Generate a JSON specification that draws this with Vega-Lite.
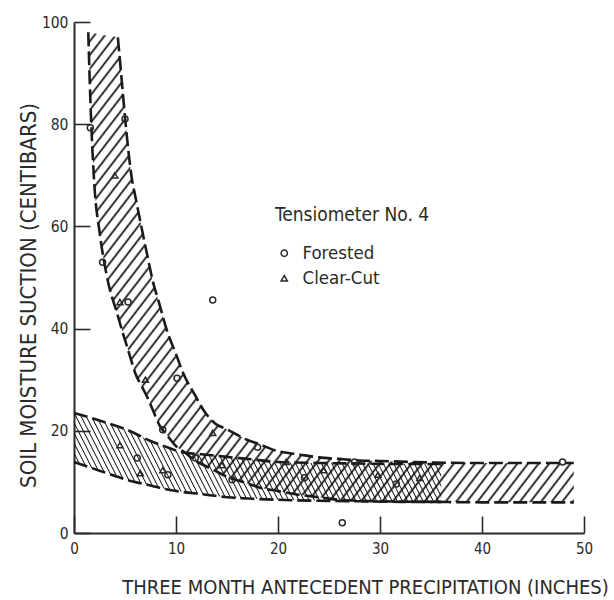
{
 "$schema": "https://vega.github.io/schema/vega-lite/v6.json",
 "width": 510, "height": 511,
 "autosize": {"type": "none"},
 "padding": {"left": 74, "top": 22, "right": 30, "bottom": 67},
 "background": "white",
 "config": {
  "view": {"stroke": null},
  "font": "DejaVu Sans Condensed, DejaVu Sans, sans-serif",
  "axis": {"grid": false, "domainColor": "#2a2a2a", "domainWidth": 2, "tickColor": "#2a2a2a", "tickWidth": 1.6,
           "labelColor": "#2a2a2a", "titleColor": "#2a2a2a", "titleFontWeight": "normal", "labelFlush": false,
           "labelFont": "DejaVu Sans Condensed, DejaVu Sans, sans-serif",
           "titleFont": "DejaVu Sans Condensed, DejaVu Sans, sans-serif"},
  "legend": {"titleFontWeight": "normal", "titleColor": "#2a2a2a", "labelColor": "#2a2a2a",
             "titleFont": "DejaVu Sans Condensed, DejaVu Sans, sans-serif",
             "labelFont": "DejaVu Sans Condensed, DejaVu Sans, sans-serif"}
 },
 "datasets": {
  "bands": [
   {"band": "F", "x": 1.4, "lo": 98, "hi": 98},
   {"band": "F", "x": 1.6, "lo": 85, "hi": 98},
   {"band": "F", "x": 2.0, "lo": 68, "hi": 97.8},
   {"band": "F", "x": 2.5, "lo": 59, "hi": 97.6},
   {"band": "F", "x": 3.3, "lo": 49.5, "hi": 97.3},
   {"band": "F", "x": 4.3, "lo": 42.5, "hi": 97},
   {"band": "F", "x": 4.7, "lo": 39.7, "hi": 88.1},
   {"band": "F", "x": 5.0, "lo": 37.8, "hi": 81.4},
   {"band": "F", "x": 5.7, "lo": 33.2, "hi": 69},
   {"band": "F", "x": 6.0, "lo": 31.3, "hi": 66},
   {"band": "F", "x": 6.7, "lo": 28.5, "hi": 59},
   {"band": "F", "x": 7.2, "lo": 26.5, "hi": 54.2},
   {"band": "F", "x": 7.7, "lo": 24.2, "hi": 49.5},
   {"band": "F", "x": 8.4, "lo": 21, "hi": 44.6},
   {"band": "F", "x": 9.1, "lo": 19.2, "hi": 39.7},
   {"band": "F", "x": 10, "lo": 17, "hi": 35},
   {"band": "F", "x": 10.7, "lo": 16, "hi": 31.3},
   {"band": "F", "x": 12, "lo": 14, "hi": 26.5},
   {"band": "F", "x": 12.4, "lo": 13.6, "hi": 25},
   {"band": "F", "x": 13.8, "lo": 12.2, "hi": 21.5},
   {"band": "F", "x": 15, "lo": 11, "hi": 20.3},
   {"band": "F", "x": 17, "lo": 9.7, "hi": 18.2},
   {"band": "F", "x": 18, "lo": 9, "hi": 17.5},
   {"band": "F", "x": 20, "lo": 8.2, "hi": 16},
   {"band": "F", "x": 22, "lo": 7.5, "hi": 15.4},
   {"band": "F", "x": 24, "lo": 7, "hi": 14.8},
   {"band": "F", "x": 26, "lo": 6.5, "hi": 14.5},
   {"band": "F", "x": 28, "lo": 6.3, "hi": 14.2},
   {"band": "F", "x": 30, "lo": 6.2, "hi": 14.1},
   {"band": "F", "x": 35, "lo": 6.1, "hi": 13.8},
   {"band": "F", "x": 40, "lo": 6, "hi": 13.7},
   {"band": "F", "x": 49, "lo": 6, "hi": 13.7},
   {"band": "C", "x": 0, "lo": 13.9, "hi": 23.5},
   {"band": "C", "x": 2.5, "lo": 12.2, "hi": 22},
   {"band": "C", "x": 5.2, "lo": 10.4, "hi": 20.2},
   {"band": "C", "x": 7.5, "lo": 9.3, "hi": 18},
   {"band": "C", "x": 9.4, "lo": 8.4, "hi": 16.6},
   {"band": "C", "x": 10.4, "lo": 8.1, "hi": 15.9},
   {"band": "C", "x": 12.5, "lo": 7.6, "hi": 15.4},
   {"band": "C", "x": 15, "lo": 7, "hi": 14.9},
   {"band": "C", "x": 17.5, "lo": 6.7, "hi": 14.4},
   {"band": "C", "x": 20, "lo": 6.5, "hi": 13.9},
   {"band": "C", "x": 24, "lo": 6.3, "hi": 13.7},
   {"band": "C", "x": 28, "lo": 6.2, "hi": 13.6},
   {"band": "C", "x": 32, "lo": 6.1, "hi": 13.5},
   {"band": "C", "x": 36, "lo": 6.1, "hi": 13.5}
  ],
  "pts": [
   {"x": 1.6, "y": 79.3, "cover": "Forested"},
   {"x": 5.0, "y": 81, "cover": "Forested"},
   {"x": 2.8, "y": 53, "cover": "Forested"},
   {"x": 5.3, "y": 45.2, "cover": "Forested"},
   {"x": 13.6, "y": 45.6, "cover": "Forested"},
   {"x": 10.1, "y": 30.3, "cover": "Forested"},
   {"x": 8.7, "y": 20.2, "cover": "Forested"},
   {"x": 6.2, "y": 14.7, "cover": "Forested"},
   {"x": 9.2, "y": 11.4, "cover": "Forested"},
   {"x": 11.9, "y": 14.7, "cover": "Forested"},
   {"x": 15.5, "y": 10.4, "cover": "Forested"},
   {"x": 18, "y": 16.8, "cover": "Forested"},
   {"x": 22.6, "y": 10.8, "cover": "Forested"},
   {"x": 27.5, "y": 13.9, "cover": "Forested"},
   {"x": 26.3, "y": 2.0, "cover": "Forested"},
   {"x": 31.6, "y": 9.6, "cover": "Forested"},
   {"x": 47.9, "y": 13.9, "cover": "Forested"},
   {"x": 4.0, "y": 70, "cover": "Clear-Cut"},
   {"x": 4.5, "y": 45.2, "cover": "Clear-Cut"},
   {"x": 7.0, "y": 30, "cover": "Clear-Cut"},
   {"x": 4.5, "y": 17.2, "cover": "Clear-Cut"},
   {"x": 6.5, "y": 11.7, "cover": "Clear-Cut"},
   {"x": 8.7, "y": 12.3, "cover": "Clear-Cut"},
   {"x": 13.6, "y": 19.6, "cover": "Clear-Cut"},
   {"x": 14.5, "y": 13.3, "cover": "Clear-Cut"},
   {"x": 20.8, "y": 13.9, "cover": "Clear-Cut"},
   {"x": 24.5, "y": 12.3, "cover": "Clear-Cut"},
   {"x": 29.8, "y": 11.4, "cover": "Clear-Cut"},
   {"x": 33.9, "y": 10.8, "cover": "Clear-Cut"}
  ]
 },
 "layer": [
  {
   "data": {"name": "bands"},
   "transform": [{"filter": "datum.band == 'F'"}],
   "mark": {"type": "area", "interpolate": "monotone",
    "fill": {"gradient": "linear", "x1": 0, "y1": 0, "x2": 1.123, "y2": 0.837, "stops": [
{"offset":0.0075,"color":"#0000"},{"offset":0.01,"color":"#111"},{"offset":0.0125,"color":"#0000"},{"offset":0.02,"color":"#0000"},{"offset":0.0225,"color":"#111"},{"offset":0.025,"color":"#0000"},{"offset":0.0325,"color":"#0000"},{"offset":0.035,"color":"#111"},{"offset":0.0375,"color":"#0000"},{"offset":0.045,"color":"#0000"},{"offset":0.0475,"color":"#111"},{"offset":0.05,"color":"#0000"},
{"offset":0.0575,"color":"#0000"},{"offset":0.06,"color":"#111"},{"offset":0.0625,"color":"#0000"},{"offset":0.07,"color":"#0000"},{"offset":0.0725,"color":"#111"},{"offset":0.075,"color":"#0000"},{"offset":0.0825,"color":"#0000"},{"offset":0.085,"color":"#111"},{"offset":0.0875,"color":"#0000"},{"offset":0.095,"color":"#0000"},{"offset":0.0975,"color":"#111"},{"offset":0.1,"color":"#0000"},
{"offset":0.1075,"color":"#0000"},{"offset":0.11,"color":"#111"},{"offset":0.1125,"color":"#0000"},{"offset":0.12,"color":"#0000"},{"offset":0.1225,"color":"#111"},{"offset":0.125,"color":"#0000"},{"offset":0.1325,"color":"#0000"},{"offset":0.135,"color":"#111"},{"offset":0.1375,"color":"#0000"},{"offset":0.145,"color":"#0000"},{"offset":0.1475,"color":"#111"},{"offset":0.15,"color":"#0000"},
{"offset":0.1575,"color":"#0000"},{"offset":0.16,"color":"#111"},{"offset":0.1625,"color":"#0000"},{"offset":0.17,"color":"#0000"},{"offset":0.1725,"color":"#111"},{"offset":0.175,"color":"#0000"},{"offset":0.1825,"color":"#0000"},{"offset":0.185,"color":"#111"},{"offset":0.1875,"color":"#0000"},{"offset":0.195,"color":"#0000"},{"offset":0.1975,"color":"#111"},{"offset":0.2,"color":"#0000"},
{"offset":0.2075,"color":"#0000"},{"offset":0.21,"color":"#111"},{"offset":0.2125,"color":"#0000"},{"offset":0.22,"color":"#0000"},{"offset":0.2225,"color":"#111"},{"offset":0.225,"color":"#0000"},{"offset":0.2325,"color":"#0000"},{"offset":0.235,"color":"#111"},{"offset":0.2375,"color":"#0000"},{"offset":0.245,"color":"#0000"},{"offset":0.2475,"color":"#111"},{"offset":0.25,"color":"#0000"},
{"offset":0.2575,"color":"#0000"},{"offset":0.26,"color":"#111"},{"offset":0.2625,"color":"#0000"},{"offset":0.27,"color":"#0000"},{"offset":0.2725,"color":"#111"},{"offset":0.275,"color":"#0000"},{"offset":0.2825,"color":"#0000"},{"offset":0.285,"color":"#111"},{"offset":0.2875,"color":"#0000"},{"offset":0.295,"color":"#0000"},{"offset":0.2975,"color":"#111"},{"offset":0.3,"color":"#0000"},
{"offset":0.3075,"color":"#0000"},{"offset":0.31,"color":"#111"},{"offset":0.3125,"color":"#0000"},{"offset":0.32,"color":"#0000"},{"offset":0.3225,"color":"#111"},{"offset":0.325,"color":"#0000"},{"offset":0.3325,"color":"#0000"},{"offset":0.335,"color":"#111"},{"offset":0.3375,"color":"#0000"},{"offset":0.345,"color":"#0000"},{"offset":0.3475,"color":"#111"},{"offset":0.35,"color":"#0000"},
{"offset":0.3575,"color":"#0000"},{"offset":0.36,"color":"#111"},{"offset":0.3625,"color":"#0000"},{"offset":0.37,"color":"#0000"},{"offset":0.3725,"color":"#111"},{"offset":0.375,"color":"#0000"},{"offset":0.3825,"color":"#0000"},{"offset":0.385,"color":"#111"},{"offset":0.3875,"color":"#0000"},{"offset":0.395,"color":"#0000"},{"offset":0.3975,"color":"#111"},{"offset":0.4,"color":"#0000"},
{"offset":0.4075,"color":"#0000"},{"offset":0.41,"color":"#111"},{"offset":0.4125,"color":"#0000"},{"offset":0.42,"color":"#0000"},{"offset":0.4225,"color":"#111"},{"offset":0.425,"color":"#0000"},{"offset":0.4325,"color":"#0000"},{"offset":0.435,"color":"#111"},{"offset":0.4375,"color":"#0000"},{"offset":0.445,"color":"#0000"},{"offset":0.4475,"color":"#111"},{"offset":0.45,"color":"#0000"},
{"offset":0.4575,"color":"#0000"},{"offset":0.46,"color":"#111"},{"offset":0.4625,"color":"#0000"},{"offset":0.47,"color":"#0000"},{"offset":0.4725,"color":"#111"},{"offset":0.475,"color":"#0000"},{"offset":0.4825,"color":"#0000"},{"offset":0.485,"color":"#111"},{"offset":0.4875,"color":"#0000"},{"offset":0.495,"color":"#0000"},{"offset":0.4975,"color":"#111"},{"offset":0.5,"color":"#0000"},
{"offset":0.5075,"color":"#0000"},{"offset":0.51,"color":"#111"},{"offset":0.5125,"color":"#0000"},{"offset":0.52,"color":"#0000"},{"offset":0.5225,"color":"#111"},{"offset":0.525,"color":"#0000"},{"offset":0.5325,"color":"#0000"},{"offset":0.535,"color":"#111"},{"offset":0.5375,"color":"#0000"},{"offset":0.545,"color":"#0000"},{"offset":0.5475,"color":"#111"},{"offset":0.55,"color":"#0000"},
{"offset":0.5575,"color":"#0000"},{"offset":0.56,"color":"#111"},{"offset":0.5625,"color":"#0000"},{"offset":0.57,"color":"#0000"},{"offset":0.5725,"color":"#111"},{"offset":0.575,"color":"#0000"},{"offset":0.5825,"color":"#0000"},{"offset":0.585,"color":"#111"},{"offset":0.5875,"color":"#0000"},{"offset":0.595,"color":"#0000"},{"offset":0.5975,"color":"#111"},{"offset":0.6,"color":"#0000"},
{"offset":0.6075,"color":"#0000"},{"offset":0.61,"color":"#111"},{"offset":0.6125,"color":"#0000"},{"offset":0.62,"color":"#0000"},{"offset":0.6225,"color":"#111"},{"offset":0.625,"color":"#0000"},{"offset":0.6325,"color":"#0000"},{"offset":0.635,"color":"#111"},{"offset":0.6375,"color":"#0000"},{"offset":0.645,"color":"#0000"},{"offset":0.6475,"color":"#111"},{"offset":0.65,"color":"#0000"},
{"offset":0.6575,"color":"#0000"},{"offset":0.66,"color":"#111"},{"offset":0.6625,"color":"#0000"},{"offset":0.67,"color":"#0000"},{"offset":0.6725,"color":"#111"},{"offset":0.675,"color":"#0000"},{"offset":0.6825,"color":"#0000"},{"offset":0.685,"color":"#111"},{"offset":0.6875,"color":"#0000"},{"offset":0.695,"color":"#0000"},{"offset":0.6975,"color":"#111"},{"offset":0.7,"color":"#0000"},
{"offset":0.7075,"color":"#0000"},{"offset":0.71,"color":"#111"},{"offset":0.7125,"color":"#0000"},{"offset":0.72,"color":"#0000"},{"offset":0.7225,"color":"#111"},{"offset":0.725,"color":"#0000"},{"offset":0.7325,"color":"#0000"},{"offset":0.735,"color":"#111"},{"offset":0.7375,"color":"#0000"},{"offset":0.745,"color":"#0000"},{"offset":0.7475,"color":"#111"},{"offset":0.75,"color":"#0000"},
{"offset":0.7575,"color":"#0000"},{"offset":0.76,"color":"#111"},{"offset":0.7625,"color":"#0000"},{"offset":0.77,"color":"#0000"},{"offset":0.7725,"color":"#111"},{"offset":0.775,"color":"#0000"},{"offset":0.7825,"color":"#0000"},{"offset":0.785,"color":"#111"},{"offset":0.7875,"color":"#0000"},{"offset":0.795,"color":"#0000"},{"offset":0.7975,"color":"#111"},{"offset":0.8,"color":"#0000"},
{"offset":0.8075,"color":"#0000"},{"offset":0.81,"color":"#111"},{"offset":0.8125,"color":"#0000"},{"offset":0.82,"color":"#0000"},{"offset":0.8225,"color":"#111"},{"offset":0.825,"color":"#0000"},{"offset":0.8325,"color":"#0000"},{"offset":0.835,"color":"#111"},{"offset":0.8375,"color":"#0000"},{"offset":0.845,"color":"#0000"},{"offset":0.8475,"color":"#111"},{"offset":0.85,"color":"#0000"},
{"offset":0.8575,"color":"#0000"},{"offset":0.86,"color":"#111"},{"offset":0.8625,"color":"#0000"},{"offset":0.87,"color":"#0000"},{"offset":0.8725,"color":"#111"},{"offset":0.875,"color":"#0000"},{"offset":0.8825,"color":"#0000"},{"offset":0.885,"color":"#111"},{"offset":0.8875,"color":"#0000"},{"offset":0.895,"color":"#0000"},{"offset":0.8975,"color":"#111"},{"offset":0.9,"color":"#0000"},
{"offset":0.9075,"color":"#0000"},{"offset":0.91,"color":"#111"},{"offset":0.9125,"color":"#0000"},{"offset":0.92,"color":"#0000"},{"offset":0.9225,"color":"#111"},{"offset":0.925,"color":"#0000"},{"offset":0.9325,"color":"#0000"},{"offset":0.935,"color":"#111"},{"offset":0.9375,"color":"#0000"},{"offset":0.945,"color":"#0000"},{"offset":0.9475,"color":"#111"},{"offset":0.95,"color":"#0000"},
{"offset":0.9575,"color":"#0000"},{"offset":0.96,"color":"#111"},{"offset":0.9625,"color":"#0000"},{"offset":0.97,"color":"#0000"},{"offset":0.9725,"color":"#111"},{"offset":0.975,"color":"#0000"},{"offset":0.9825,"color":"#0000"},{"offset":0.985,"color":"#111"},{"offset":0.9875,"color":"#0000"},{"offset":0.995,"color":"#0000"},{"offset":0.9975,"color":"#111"},{"offset":1,"color":"#0000"}
    ]}},
   "encoding": {
    "x": {"field": "x", "type": "quantitative", "scale": {"domain": [0, 50]}, "title": "THREE MONTH ANTECEDENT PRECIPITATION (INCHES)",
          "axis": {"values": [0, 10, 20, 30, 40, 50], "tickSize": -17, "labelPadding": 25, "labelFontSize": 15, "titleFontSize": 20,
                   "titleX": 291, "titleY": 60, "titleAlign": "center", "titleBaseline": "alphabetic", "titleAnchor": null}},
    "y": {"field": "lo", "type": "quantitative", "scale": {"domain": [0, 100]}, "title": "SOIL MOISTURE SUCTION (CENTIBARS)",
          "axis": {"values": [0, 20, 40, 60, 80, 100], "tickSize": -16, "labelPadding": 22, "labelFontSize": 15.5, "titleFontSize": 22,
                   "titleX": -39, "titleY": 273, "titleAngle": -90, "titleAlign": "center", "titleBaseline": "alphabetic", "titleAnchor": null}},
    "y2": {"field": "hi"}
   }
  },
  {
   "data": {"name": "bands"},
   "transform": [{"filter": "datum.band == 'C'"}],
   "mark": {"type": "area", "interpolate": "monotone",
    "fill": {"gradient": "linear", "x1": 0, "y1": 1, "x2": 1.106, "y2": 0.864, "stops": [
{"offset":0.0075,"color":"#0000"},{"offset":0.01,"color":"#111"},{"offset":0.0125,"color":"#0000"},{"offset":0.02,"color":"#0000"},{"offset":0.0225,"color":"#111"},{"offset":0.025,"color":"#0000"},{"offset":0.0325,"color":"#0000"},{"offset":0.035,"color":"#111"},{"offset":0.0375,"color":"#0000"},{"offset":0.045,"color":"#0000"},{"offset":0.0475,"color":"#111"},{"offset":0.05,"color":"#0000"},
{"offset":0.0575,"color":"#0000"},{"offset":0.06,"color":"#111"},{"offset":0.0625,"color":"#0000"},{"offset":0.07,"color":"#0000"},{"offset":0.0725,"color":"#111"},{"offset":0.075,"color":"#0000"},{"offset":0.0825,"color":"#0000"},{"offset":0.085,"color":"#111"},{"offset":0.0875,"color":"#0000"},{"offset":0.095,"color":"#0000"},{"offset":0.0975,"color":"#111"},{"offset":0.1,"color":"#0000"},
{"offset":0.1075,"color":"#0000"},{"offset":0.11,"color":"#111"},{"offset":0.1125,"color":"#0000"},{"offset":0.12,"color":"#0000"},{"offset":0.1225,"color":"#111"},{"offset":0.125,"color":"#0000"},{"offset":0.1325,"color":"#0000"},{"offset":0.135,"color":"#111"},{"offset":0.1375,"color":"#0000"},{"offset":0.145,"color":"#0000"},{"offset":0.1475,"color":"#111"},{"offset":0.15,"color":"#0000"},
{"offset":0.1575,"color":"#0000"},{"offset":0.16,"color":"#111"},{"offset":0.1625,"color":"#0000"},{"offset":0.17,"color":"#0000"},{"offset":0.1725,"color":"#111"},{"offset":0.175,"color":"#0000"},{"offset":0.1825,"color":"#0000"},{"offset":0.185,"color":"#111"},{"offset":0.1875,"color":"#0000"},{"offset":0.195,"color":"#0000"},{"offset":0.1975,"color":"#111"},{"offset":0.2,"color":"#0000"},
{"offset":0.2075,"color":"#0000"},{"offset":0.21,"color":"#111"},{"offset":0.2125,"color":"#0000"},{"offset":0.22,"color":"#0000"},{"offset":0.2225,"color":"#111"},{"offset":0.225,"color":"#0000"},{"offset":0.2325,"color":"#0000"},{"offset":0.235,"color":"#111"},{"offset":0.2375,"color":"#0000"},{"offset":0.245,"color":"#0000"},{"offset":0.2475,"color":"#111"},{"offset":0.25,"color":"#0000"},
{"offset":0.2575,"color":"#0000"},{"offset":0.26,"color":"#111"},{"offset":0.2625,"color":"#0000"},{"offset":0.27,"color":"#0000"},{"offset":0.2725,"color":"#111"},{"offset":0.275,"color":"#0000"},{"offset":0.2825,"color":"#0000"},{"offset":0.285,"color":"#111"},{"offset":0.2875,"color":"#0000"},{"offset":0.295,"color":"#0000"},{"offset":0.2975,"color":"#111"},{"offset":0.3,"color":"#0000"},
{"offset":0.3075,"color":"#0000"},{"offset":0.31,"color":"#111"},{"offset":0.3125,"color":"#0000"},{"offset":0.32,"color":"#0000"},{"offset":0.3225,"color":"#111"},{"offset":0.325,"color":"#0000"},{"offset":0.3325,"color":"#0000"},{"offset":0.335,"color":"#111"},{"offset":0.3375,"color":"#0000"},{"offset":0.345,"color":"#0000"},{"offset":0.3475,"color":"#111"},{"offset":0.35,"color":"#0000"},
{"offset":0.3575,"color":"#0000"},{"offset":0.36,"color":"#111"},{"offset":0.3625,"color":"#0000"},{"offset":0.37,"color":"#0000"},{"offset":0.3725,"color":"#111"},{"offset":0.375,"color":"#0000"},{"offset":0.3825,"color":"#0000"},{"offset":0.385,"color":"#111"},{"offset":0.3875,"color":"#0000"},{"offset":0.395,"color":"#0000"},{"offset":0.3975,"color":"#111"},{"offset":0.4,"color":"#0000"},
{"offset":0.4075,"color":"#0000"},{"offset":0.41,"color":"#111"},{"offset":0.4125,"color":"#0000"},{"offset":0.42,"color":"#0000"},{"offset":0.4225,"color":"#111"},{"offset":0.425,"color":"#0000"},{"offset":0.4325,"color":"#0000"},{"offset":0.435,"color":"#111"},{"offset":0.4375,"color":"#0000"},{"offset":0.445,"color":"#0000"},{"offset":0.4475,"color":"#111"},{"offset":0.45,"color":"#0000"},
{"offset":0.4575,"color":"#0000"},{"offset":0.46,"color":"#111"},{"offset":0.4625,"color":"#0000"},{"offset":0.47,"color":"#0000"},{"offset":0.4725,"color":"#111"},{"offset":0.475,"color":"#0000"},{"offset":0.4825,"color":"#0000"},{"offset":0.485,"color":"#111"},{"offset":0.4875,"color":"#0000"},{"offset":0.495,"color":"#0000"},{"offset":0.4975,"color":"#111"},{"offset":0.5,"color":"#0000"},
{"offset":0.5075,"color":"#0000"},{"offset":0.51,"color":"#111"},{"offset":0.5125,"color":"#0000"},{"offset":0.52,"color":"#0000"},{"offset":0.5225,"color":"#111"},{"offset":0.525,"color":"#0000"},{"offset":0.5325,"color":"#0000"},{"offset":0.535,"color":"#111"},{"offset":0.5375,"color":"#0000"},{"offset":0.545,"color":"#0000"},{"offset":0.5475,"color":"#111"},{"offset":0.55,"color":"#0000"},
{"offset":0.5575,"color":"#0000"},{"offset":0.56,"color":"#111"},{"offset":0.5625,"color":"#0000"},{"offset":0.57,"color":"#0000"},{"offset":0.5725,"color":"#111"},{"offset":0.575,"color":"#0000"},{"offset":0.5825,"color":"#0000"},{"offset":0.585,"color":"#111"},{"offset":0.5875,"color":"#0000"},{"offset":0.595,"color":"#0000"},{"offset":0.5975,"color":"#111"},{"offset":0.6,"color":"#0000"},
{"offset":0.6075,"color":"#0000"},{"offset":0.61,"color":"#111"},{"offset":0.6125,"color":"#0000"},{"offset":0.62,"color":"#0000"},{"offset":0.6225,"color":"#111"},{"offset":0.625,"color":"#0000"},{"offset":0.6325,"color":"#0000"},{"offset":0.635,"color":"#111"},{"offset":0.6375,"color":"#0000"},{"offset":0.645,"color":"#0000"},{"offset":0.6475,"color":"#111"},{"offset":0.65,"color":"#0000"},
{"offset":0.6575,"color":"#0000"},{"offset":0.66,"color":"#111"},{"offset":0.6625,"color":"#0000"},{"offset":0.67,"color":"#0000"},{"offset":0.6725,"color":"#111"},{"offset":0.675,"color":"#0000"},{"offset":0.6825,"color":"#0000"},{"offset":0.685,"color":"#111"},{"offset":0.6875,"color":"#0000"},{"offset":0.695,"color":"#0000"},{"offset":0.6975,"color":"#111"},{"offset":0.7,"color":"#0000"},
{"offset":0.7075,"color":"#0000"},{"offset":0.71,"color":"#111"},{"offset":0.7125,"color":"#0000"},{"offset":0.72,"color":"#0000"},{"offset":0.7225,"color":"#111"},{"offset":0.725,"color":"#0000"},{"offset":0.7325,"color":"#0000"},{"offset":0.735,"color":"#111"},{"offset":0.7375,"color":"#0000"},{"offset":0.745,"color":"#0000"},{"offset":0.7475,"color":"#111"},{"offset":0.75,"color":"#0000"},
{"offset":0.7575,"color":"#0000"},{"offset":0.76,"color":"#111"},{"offset":0.7625,"color":"#0000"},{"offset":0.77,"color":"#0000"},{"offset":0.7725,"color":"#111"},{"offset":0.775,"color":"#0000"},{"offset":0.7825,"color":"#0000"},{"offset":0.785,"color":"#111"},{"offset":0.7875,"color":"#0000"},{"offset":0.795,"color":"#0000"},{"offset":0.7975,"color":"#111"},{"offset":0.8,"color":"#0000"},
{"offset":0.8075,"color":"#0000"},{"offset":0.81,"color":"#111"},{"offset":0.8125,"color":"#0000"},{"offset":0.82,"color":"#0000"},{"offset":0.8225,"color":"#111"},{"offset":0.825,"color":"#0000"},{"offset":0.8325,"color":"#0000"},{"offset":0.835,"color":"#111"},{"offset":0.8375,"color":"#0000"},{"offset":0.845,"color":"#0000"},{"offset":0.8475,"color":"#111"},{"offset":0.85,"color":"#0000"},
{"offset":0.8575,"color":"#0000"},{"offset":0.86,"color":"#111"},{"offset":0.8625,"color":"#0000"},{"offset":0.87,"color":"#0000"},{"offset":0.8725,"color":"#111"},{"offset":0.875,"color":"#0000"},{"offset":0.8825,"color":"#0000"},{"offset":0.885,"color":"#111"},{"offset":0.8875,"color":"#0000"},{"offset":0.895,"color":"#0000"},{"offset":0.8975,"color":"#111"},{"offset":0.9,"color":"#0000"},
{"offset":0.9075,"color":"#0000"},{"offset":0.91,"color":"#111"},{"offset":0.9125,"color":"#0000"},{"offset":0.92,"color":"#0000"},{"offset":0.9225,"color":"#111"},{"offset":0.925,"color":"#0000"},{"offset":0.9325,"color":"#0000"},{"offset":0.935,"color":"#111"},{"offset":0.9375,"color":"#0000"},{"offset":0.945,"color":"#0000"},{"offset":0.9475,"color":"#111"},{"offset":0.95,"color":"#0000"},
{"offset":0.9575,"color":"#0000"},{"offset":0.96,"color":"#111"},{"offset":0.9625,"color":"#0000"},{"offset":0.97,"color":"#0000"},{"offset":0.9725,"color":"#111"},{"offset":0.975,"color":"#0000"},{"offset":0.9825,"color":"#0000"},{"offset":0.985,"color":"#111"},{"offset":0.9875,"color":"#0000"},{"offset":0.995,"color":"#0000"},{"offset":0.9975,"color":"#111"},{"offset":1,"color":"#0000"}
    ]}},
   "encoding": {
    "x": {"field": "x", "type": "quantitative", "title": "THREE MONTH ANTECEDENT PRECIPITATION (INCHES)"},
    "y": {"field": "lo", "type": "quantitative", "title": "SOIL MOISTURE SUCTION (CENTIBARS)"},
    "y2": {"field": "hi"}
   }
  },
  {
   "data": {"name": "bands"},
   "mark": {"type": "line", "interpolate": "monotone", "color": "#1a1a1a", "strokeWidth": 2.6, "strokeDash": [14, 5]},
   "encoding": {
    "x": {"field": "x", "type": "quantitative", "title": "THREE MONTH ANTECEDENT PRECIPITATION (INCHES)"},
    "y": {"field": "lo", "type": "quantitative", "title": "SOIL MOISTURE SUCTION (CENTIBARS)"},
    "detail": {"field": "band"}
   }
  },
  {
   "data": {"name": "bands"},
   "transform": [{"filter": "datum.band == 'C' || datum.x >= 4.3"}],
   "mark": {"type": "line", "interpolate": "monotone", "color": "#1a1a1a", "strokeWidth": 2.6, "strokeDash": [14, 5]},
   "encoding": {
    "x": {"field": "x", "type": "quantitative", "title": "THREE MONTH ANTECEDENT PRECIPITATION (INCHES)"},
    "y": {"field": "hi", "type": "quantitative", "title": "SOIL MOISTURE SUCTION (CENTIBARS)"},
    "detail": {"field": "band"}
   }
  },
  {
   "data": {"name": "pts"},
   "mark": {"type": "point", "filled": false, "color": "#2a2a2a", "strokeWidth": 1.5, "opacity": 1},
   "encoding": {
    "x": {"field": "x", "type": "quantitative", "title": "THREE MONTH ANTECEDENT PRECIPITATION (INCHES)"},
    "y": {"field": "y", "type": "quantitative", "title": "SOIL MOISTURE SUCTION (CENTIBARS)"},
    "shape": {"field": "cover", "type": "nominal",
              "scale": {"domain": ["Forested", "Clear-Cut"], "range": ["circle", "triangle-up"]},
              "legend": {"title": "Tensiometer No. 4", "orient": "none", "legendX": 201, "legendY": 184,
                         "titleFontSize": 19, "labelFontSize": 18.5, "titlePadding": 19, "rowPadding": 6,
                         "symbolSize": 40, "symbolStrokeWidth": 1.5, "symbolStrokeColor": "#2a2a2a",
                         "labelOffset": 9, "padding": 0}},
    "size": {"value": 36}
   }
  }
 ]
}
